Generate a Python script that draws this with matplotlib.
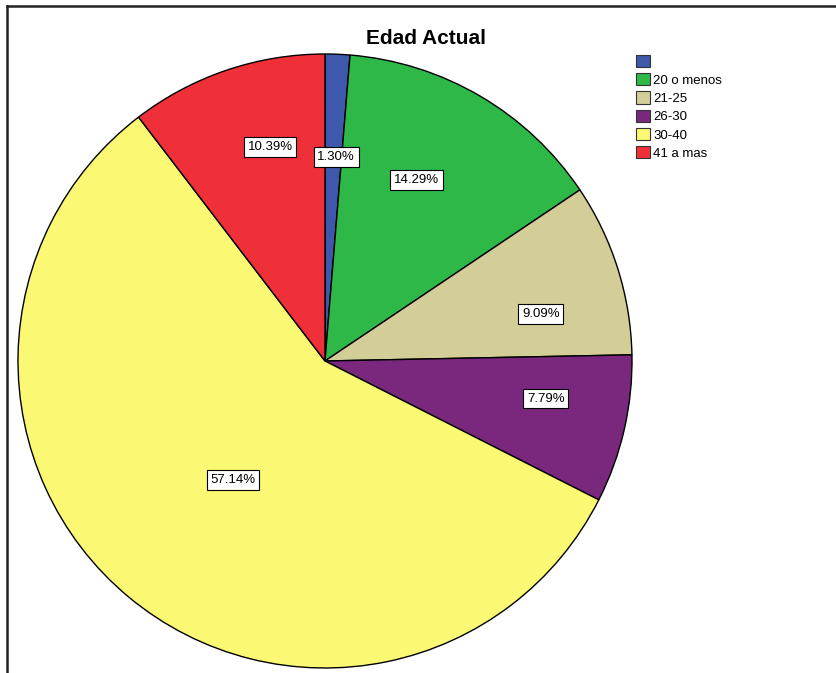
import numpy as np
import matplotlib.pyplot as plt
from matplotlib.lines import Line2D
from matplotlib.patches import Patch

plt.rcParams['font.family'] = ['Liberation Sans', 'DejaVu Sans']

categories = ["", "20 o menos", "21-25", "26-30", "30-40", "41 a mas"]
percents = [1.30, 14.29, 9.09, 7.79, 57.14, 10.39]
colors = ["#3E58AC", "#2EB848", "#D3CE97", "#79287D", "#FBF873", "#EF3038"]
# label placement (radius fraction, angle nudge in degrees)
label_dist = [0.665, 0.66, 0.72, 0.73, 0.49, 0.72]
label_nudge = [-0.8, 3.6, -5.2, 3.2, 2.0, -4.3]

fig = plt.figure(figsize=(8.36, 6.73), dpi=100)
W, H = 836, 673
cx, cy, r = 325, 361, 307
ax = fig.add_axes([(cx - r) / W, (H - cy - r) / H, 2 * r / W, 2 * r / H])

wedges, _ = ax.pie(percents, colors=colors, startangle=90, counterclock=False,
                   radius=1.0, wedgeprops=dict(edgecolor="black", linewidth=1.0))
ax.set_xlim(-1, 1)
ax.set_ylim(-1, 1)
ax.set_aspect("equal")
ax.axis("off")

# percentage labels
start = 90.0
for p, d, nd in zip(percents, label_dist, label_nudge):
    sweep = p / sum(percents) * 360
    mid = np.deg2rad(start - sweep / 2 + nd)
    start -= sweep
    ax.text(d * np.cos(mid), d * np.sin(mid), f"{p:.2f}%", ha="center", va="center",
            fontsize=9.5,
            bbox=dict(boxstyle="square,pad=0.28", fc="white", ec="black", lw=0.8))

fig.text(426 / W, 1 - 38 / H, "Edad Actual", ha="center", va="center",
         fontsize=15, fontweight="bold")

handles = [Patch(facecolor=c, edgecolor="#333333", linewidth=0.8) for c in colors]
fig.legend(handles, categories, loc="upper left", bbox_to_anchor=(636 / W, 1 - 55 / H),
           frameon=False, fontsize=9.5, handlelength=1.05, handleheight=1.05,
           handletextpad=0.25, labelspacing=0.35, borderpad=0, borderaxespad=0)

# outer frame
fig.add_artist(Line2D([7 / W, 7 / W], [0, 1 - 6 / H], color="#222222", lw=1.8))
fig.add_artist(Line2D([7 / W, 1], [1 - 6 / H, 1 - 6 / H], color="#222222", lw=1.8))

fig.savefig("out.png", dpi=100)
